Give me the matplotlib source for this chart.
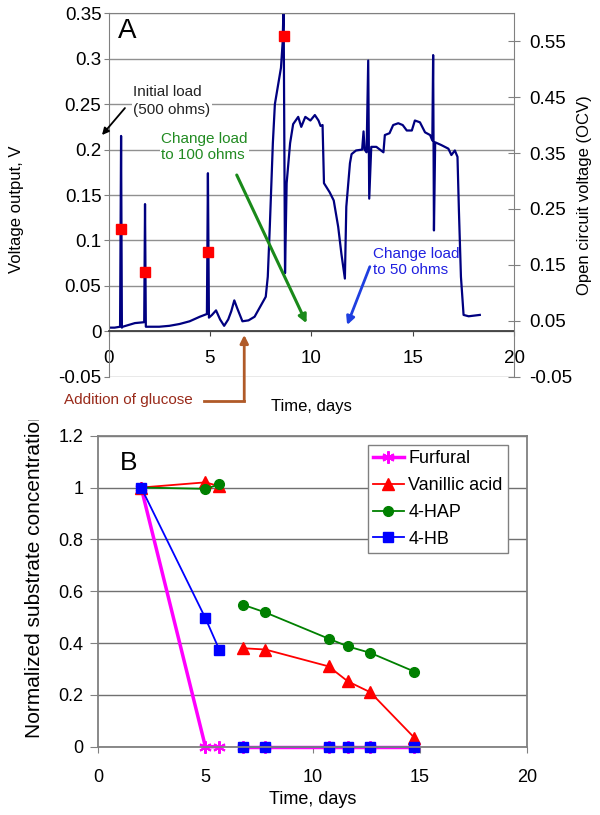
import numpy as np
import matplotlib.pyplot as plt
from matplotlib.transforms import Bbox, TransformedBbox

plt.rcParams['font.family'] = ['Liberation Sans', 'DejaVu Sans']
plt.rcParams['axes.unicode_minus'] = False

# ---- panel A: voltage output over time (days, V)
time_a = [0.0, 0.3, 0.57, 0.62, 0.66, 0.7, 1.0, 1.3, 1.76, 1.8, 1.84, 2.5, 3.0, 3.5,
          4.0, 4.5, 4.85, 4.9, 4.95, 5.1, 5.3, 5.5, 5.7, 5.9, 6.05, 6.2, 6.35, 6.6,
          6.9, 7.2, 7.5, 7.75, 7.85, 7.95, 8.1, 8.2, 8.35, 8.5, 8.58, 8.63, 8.7, 8.78,
          8.95, 9.1, 9.35, 9.5, 9.7, 9.95, 10.17, 10.35, 10.45, 10.55, 10.62, 10.9,
          11.1, 11.32, 11.48, 11.65, 11.72, 11.9, 11.98, 12.2, 12.5, 12.57, 12.62,
          12.72, 12.8, 12.85, 12.95, 13.2, 13.55, 13.62, 13.85, 14.03, 14.28, 14.5,
          14.7, 14.95, 15.1, 15.35, 15.6, 15.85, 15.96, 16.0, 16.04, 16.1, 16.4,
          16.75, 16.9, 17.07, 17.2, 17.27, 17.37, 17.5, 17.75, 18.3]
volt_a = [0.004, 0.004, 0.005, 0.215, 0.004, 0.005, 0.007, 0.009, 0.010, 0.14, 0.005,
          0.005, 0.006, 0.008, 0.011, 0.016, 0.019, 0.174, 0.015, 0.018, 0.023, 0.013,
          0.006, 0.013, 0.022, 0.034, 0.025, 0.011, 0.012, 0.016, 0.028, 0.038, 0.06,
          0.115, 0.207, 0.25, 0.27, 0.29, 0.317, 0.36, 0.064, 0.163, 0.207, 0.228,
          0.236, 0.225, 0.236, 0.232, 0.238, 0.232, 0.226, 0.227, 0.163, 0.153, 0.144,
          0.115, 0.085, 0.058, 0.137, 0.185, 0.195, 0.199, 0.2, 0.22, 0.2, 0.197,
          0.298, 0.146, 0.203, 0.203, 0.197, 0.216, 0.218, 0.227, 0.229, 0.227, 0.221,
          0.221, 0.232, 0.230, 0.219, 0.216, 0.21, 0.304, 0.111, 0.208, 0.205, 0.201,
          0.194, 0.199, 0.192, 0.133, 0.06, 0.018, 0.0165, 0.018]

# open circuit voltage readings (right axis)
ocv_t = [0.6, 1.8, 4.9, 8.63]
ocv_v = [0.215, 0.138, 0.173, 0.56]

left_ticks = [-0.05, 0, 0.05, 0.1, 0.15, 0.2, 0.25, 0.3, 0.35]
right_ticks = [-0.05, 0.05, 0.15, 0.25, 0.35, 0.45, 0.55]
x_ticks = [0, 5, 10, 15, 20]

# ---- panel B: normalized substrate concentration
time_b = [2, 5, 5.65, 6.75, 7.8, 10.75, 11.65, 12.7, 14.75]
furfural = [1, 0, 0, 0, 0, 0, 0, 0, 0]
vanillic = [1, 1.02, 1.005, 0.38, 0.375, 0.31, 0.252, 0.21, 0.035]
hap = [1, 0.995, 1.012, 0.548, 0.518, 0.417, 0.387, 0.362, 0.29]
hb = [1, 0.496, 0.374, 0, 0, 0, 0, 0, 0]
split = 3  # no samples between day 5.65 and 6.75, lines break there
b_ticks = [0, 0.2, 0.4, 0.6, 0.8, 1.0, 1.2]

GRID = '#909090'
SPINE = '#808080'

fig = plt.figure(figsize=(6, 8.15), dpi=100)

# ================= panel A
ax = fig.add_axes([108.5/600, 1-376.7/815, (514.3-108.5)/600, (376.7-13.3)/815])
ax.plot(time_a, volt_a, color='#000080', lw=1.6, zorder=2)
ax.set_xlim(0, 20)
ax.set_ylim(-0.05, 0.35)
ax.set_xticks(x_ticks)
ax.set_xticklabels([str(v) for v in x_ticks])
ax.set_yticks(left_ticks)
ax.set_yticklabels(['%g' % v for v in left_ticks])
ax.grid(axis='y', color=GRID, lw=1)
ax.set_axisbelow(True)
ax.spines['bottom'].set_position(('data', 0))
ax.spines['bottom'].set_color('#404040')
ax.spines['bottom'].set_linewidth(1.3)
ax.spines['left'].set_color(SPINE)
ax.spines['top'].set_color(SPINE)
ax.spines['right'].set_visible(False)
ax.tick_params(axis='x', direction='out', length=3.6, color='#404040', pad=10, labelsize=13.5)
ax.tick_params(axis='y', direction='out', length=3.6, color=SPINE, pad=1.5, labelsize=13.5)
ax.set_xlabel('Time, days', fontsize=12)
ax.xaxis.set_label_coords(0.5, -0.062)

ax2 = ax.twinx()
ax2.plot(ocv_t, ocv_v, 's', color='#ff0000', ms=7, ls='none')
ax2.set_ylim(-0.05, 0.6)
ax2.set_yticks(right_ticks)
ax2.set_yticklabels(['%g' % v for v in right_ticks])
for s in ['left', 'top', 'bottom']:
    ax2.spines[s].set_visible(False)
ax2.spines['right'].set_color(SPINE)
ax2.tick_params(axis='y', direction='inout', length=8.6, color=SPINE, pad=6.7, labelsize=13.5)

fig.text(16.5/600, 1-209/815, 'Voltage output, V', rotation=90, ha='center', va='center', fontsize=12)
fig.text(585/600, 1-195/815, 'Open circuit voltage (OCV)', rotation=90, ha='center', va='center', fontsize=12)
fig.text(118/600, 1-38/815, 'A', fontsize=20)

# annotations
wbox = dict(facecolor='white', edgecolor='none', pad=1)
ax.text(1.21, 0.271, 'Initial load\n(500 ohms)', fontsize=11, color='#222222',
        va='top', ha='left', linespacing=1.35, bbox=wbox)
ax.annotate('', xy=(-0.32, 0.216), xytext=(0.81, 0.2457), annotation_clip=False,
            arrowprops=dict(arrowstyle='-|>', color='k', lw=1.3, mutation_scale=10,
                            shrinkA=0, shrinkB=0))
ax.text(2.59, 0.2197, 'Change load\nto 100 ohms', fontsize=11, color='#228b22',
        va='top', ha='left', linespacing=1.25, bbox=wbox)
ax.annotate('', xy=(9.76, 0.0088), xytext=(6.32, 0.172),
            arrowprops=dict(arrowstyle='-|>', color='#1a8a1a', lw=2.2, mutation_scale=12,
                            shrinkA=0, shrinkB=0))
ax.text(13.04, 0.0931, 'Change load\nto 50 ohms', fontsize=11, color='#2020e0',
        va='top', ha='left', linespacing=1.25, zorder=1.5)
ax.annotate('', xy=(11.76, 0.0069), xytext=(12.88, 0.0711),
            arrowprops=dict(arrowstyle='-|>', color='#1f3fe0', lw=2, mutation_scale=12,
                            shrinkA=0, shrinkB=0))
ax.text(4.15, -0.0756, 'Addition of glucose', ha='right', va='center', fontsize=11,
        color='#992a1a', clip_on=False)
ax.plot([4.70, 6.69], [-0.0767, -0.0767], color='#b05a28', lw=2, clip_on=False)
ax.annotate('', xy=(6.69, -0.004), xytext=(6.69, -0.0767), annotation_clip=False,
            arrowprops=dict(arrowstyle='-|>', color='#b05a28', lw=2, mutation_scale=12,
                            shrinkA=0, shrinkB=0))

# ================= panel B
axb = fig.add_axes([98.3/600, 1-746.7/815, (526.7-98.3)/600, (746.7-435.7)/815])
series = [
    ('Furfural', furfural, dict(color='#ff00ff', lw=2.5, marker=(6, 2, 0), ms=9, mew=1.5)),
    ('Vanillic acid', vanillic, dict(color='#ff0000', lw=1.3, marker='^', ms=8)),
    ('4-HAP', hap, dict(color='#008000', lw=1.3, marker='o', ms=7)),
    ('4-HB', hb, dict(color='#0000ff', lw=1.3, marker='s', ms=7)),
]
for name, vals, st in series:
    axb.plot(time_b[:split], vals[:split], label=name, clip_on=False, **st)
    axb.plot(time_b[split:], vals[split:], clip_on=False, **st)

axb.set_xlim(0, 20)
axb.set_ylim(0, 1.2)
axb.set_xticks(x_ticks)
axb.set_xticklabels([str(v) for v in x_ticks])
axb.set_yticks(b_ticks)
axb.set_yticklabels(['%g' % v for v in b_ticks])
axb.grid(axis='y', color='#707070', lw=1)
axb.set_axisbelow(True)
for s in axb.spines.values():
    s.set_color(SPINE)
    s.set_linewidth(1.3)
axb.tick_params(axis='x', direction='out', length=4.3, color=SPINE, pad=12, labelsize=13)
axb.tick_params(axis='y', direction='out', length=5.8, color=SPINE, pad=5, labelsize=13)
axb.set_xlabel('Time, days', fontsize=13)
axb.xaxis.set_label_coords(0.5, -0.1437)

leg = axb.legend(loc='upper left', bbox_to_anchor=(367.7/600, 1-445/815),
                 bbox_transform=fig.transFigure, fontsize=13, frameon=True, fancybox=False,
                 edgecolor=SPINE, framealpha=1, borderpad=0.3, labelspacing=0.54,
                 handlelength=1.7, handletextpad=0.25, borderaxespad=0, numpoints=1)
leg.get_frame().set_linewidth(1)

fig.text(120/600, 1-470/815, 'B', fontsize=19)
yl = fig.text(35/600, 1-738/815, 'Normalized substrate concentration', rotation=90,
              ha='center', va='bottom', fontsize=15)
yl.set_clip_box(TransformedBbox(Bbox([[0, 0], [1, 1-420/815]]), fig.transFigure))
yl.set_clip_on(True)

fig.savefig('out.png', dpi=100)
